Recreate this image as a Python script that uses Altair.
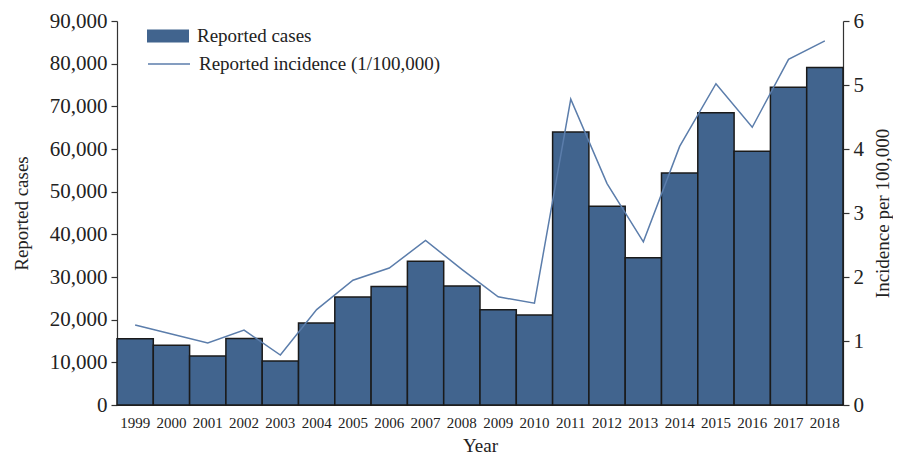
import altair as alt
import pandas as pd

years = [str(y) for y in range(1999, 2019)]
cases = [15500, 14000, 11500, 15600, 10300, 19200, 25300, 27800, 33700, 27900,
         22300, 21100, 64000, 46600, 34500, 54400, 68500, 59500, 74500, 79100]
incidence = [1.25, 1.11, 0.97, 1.17, 0.78, 1.49, 1.95, 2.14, 2.57, 2.12,
             1.69, 1.59, 4.78, 3.46, 2.55, 4.04, 5.02, 4.34, 5.40, 5.69]

df = pd.DataFrame({
    "Year": years,
    "cases": cases,
    "incidence": incidence,
    "s1": "Reported cases",
    "s2": "Reported incidence (1/100,000)",
})

FONT = "Liberation Serif"
TXT = "#222222"
BAR = "#41648e"
LINE = "#5b7dab"

x = alt.X("Year:O", title="Year",
          scale=alt.Scale(paddingInner=0, paddingOuter=0),
          axis=alt.Axis(labelAngle=0, ticks=False, labelPadding=10,
                        labelFontSize=15, titleFontSize=19, titlePadding=6))

bars = alt.Chart(df).mark_bar(stroke="#1a1a1a", strokeWidth=1.5).encode(
    x=x,
    y=alt.Y("cases:Q", title="Reported cases",
            scale=alt.Scale(domain=[0, 90000], nice=False),
            axis=alt.Axis(values=list(range(0, 90001, 10000)), format=",.0f",
                          orient="left", grid=False, tickSize=6, labelPadding=4,
                          labelFontSize=21, titleFontSize=19, titlePadding=18)),
    fill=alt.Fill("s1:N", scale=alt.Scale(range=[BAR]),
                  legend=alt.Legend(title=None, orient="none", legendX=30, legendY=-6,
                                    symbolType="M-1,-0.31H1V0.31H-1Z", symbolSize=1764,
                                    symbolStrokeWidth=0, labelFontSize=19, labelLimit=400,
                                    labelFont=FONT, labelColor=TXT, labelOffset=8)),
)

line = alt.Chart(df).mark_line(strokeWidth=1.5).encode(
    x=x,
    y=alt.Y("incidence:Q", title="Incidence per 100,000",
            scale=alt.Scale(domain=[0, 6], nice=False),
            axis=alt.Axis(values=[0, 1, 2, 3, 4, 5, 6], orient="right", grid=False,
                          tickSize=6, labelPadding=4, labelFontSize=21,
                          titleFontSize=19, titlePadding=10, titleAngle=270,
                          titleBaseline="top")),
    stroke=alt.Stroke("s2:N", scale=alt.Scale(range=[LINE]),
                      legend=alt.Legend(title=None, orient="none", legendX=30, legendY=21,
                                        symbolType="stroke", symbolSize=1764,
                                        symbolStrokeWidth=1.5, labelFontSize=19, labelLimit=400,
                                        labelFont=FONT, labelColor=TXT, labelOffset=8)),
)

chart = alt.layer(bars, line).resolve_scale(
    y="independent", fill="independent", stroke="independent"
).resolve_legend(fill="independent", stroke="independent").properties(
    width=726, height=384,
    autosize=alt.AutoSizeParams(type="none"),
    padding={"left": 109, "top": 13, "right": 50, "bottom": 50},
).configure_view(stroke=None).configure_axis(
    labelFont=FONT, titleFont=FONT, labelColor=TXT, titleColor=TXT,
    titleFontWeight="normal", domainColor="#333333", tickColor="#333333",
    domainWidth=1.2, tickWidth=1.2,
)

chart.save("out.html", embed_options={"renderer": "svg", "actions": False})
